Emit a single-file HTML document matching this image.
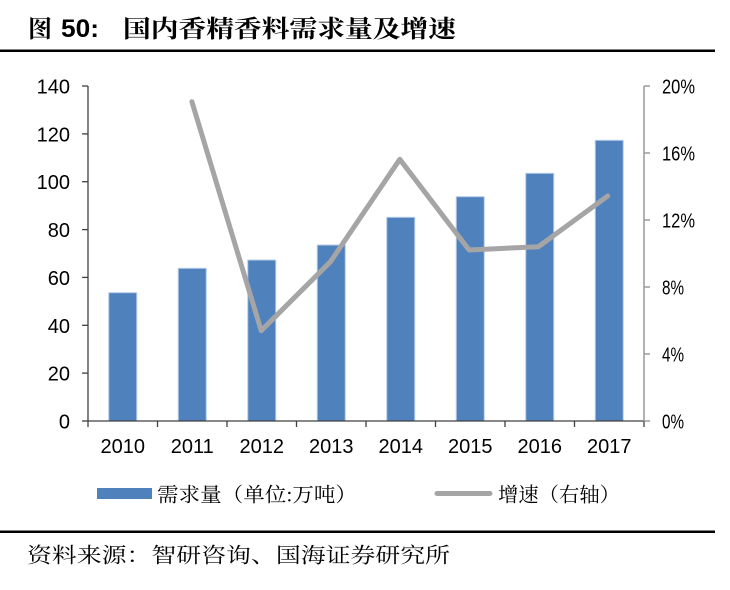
<!DOCTYPE html>
<html>
<head>
<meta charset="utf-8">
<style>
  html,body{margin:0;padding:0;background:#fff;}
  svg{display:block;}
  .num{font-family:"Liberation Sans",Arial,sans-serif;font-size:20px;fill:#000;}
  .cjk{font-family:"Liberation Serif","Noto Serif CJK SC",serif;fill:#000;}
</style>
</head>
<body>
<svg width="730" height="590" viewBox="0 0 730 590" xmlns="http://www.w3.org/2000/svg">
  <rect width="730" height="590" fill="#fff"/>

  <!-- Title -->
  <text x="28" y="37" class="cjk" font-size="24" font-weight="700" textLength="24" lengthAdjust="spacingAndGlyphs">图</text>
  <text x="61" y="37" font-family="Liberation Sans, Arial, sans-serif" font-size="25" font-weight="700" textLength="38" lengthAdjust="spacingAndGlyphs">50:</text>
  <text x="123" y="37" class="cjk" font-size="24" font-weight="700" textLength="333" lengthAdjust="spacingAndGlyphs">国内香精香料需求量及增速</text>
  <rect x="0" y="49.5" width="715" height="2.5" fill="#000"/>

  <!-- Bars -->
  <g fill="#4f81bd" stroke="#b8cde8" stroke-width="1">
    <rect x="108.75" y="292.7" width="28" height="128.3"/>
    <rect x="178.25" y="268.3" width="28" height="152.7"/>
    <rect x="247.75" y="260" width="28" height="161"/>
    <rect x="317.25" y="245" width="28" height="176"/>
    <rect x="386.75" y="217.3" width="28" height="203.7"/>
    <rect x="456.25" y="196.7" width="28" height="224.3"/>
    <rect x="525.75" y="173.3" width="28" height="247.7"/>
    <rect x="595.25" y="140.3" width="28" height="280.7"/>
  </g>

  <!-- Axes -->
  <g stroke="#404040" stroke-width="1.3" fill="none">
    <line x1="88" y1="86" x2="88" y2="421"/>
    <line x1="88" y1="421" x2="644" y2="421"/>
    <line x1="82" y1="86" x2="88" y2="86"/>
    <line x1="82" y1="133.9" x2="88" y2="133.9"/>
    <line x1="82" y1="181.7" x2="88" y2="181.7"/>
    <line x1="82" y1="229.6" x2="88" y2="229.6"/>
    <line x1="82" y1="277.4" x2="88" y2="277.4"/>
    <line x1="82" y1="325.3" x2="88" y2="325.3"/>
    <line x1="82" y1="373.1" x2="88" y2="373.1"/>
    <line x1="82" y1="421" x2="88" y2="421"/>
    <line x1="88" y1="421" x2="88" y2="427"/>
    <line x1="157.5" y1="421" x2="157.5" y2="427"/>
    <line x1="227" y1="421" x2="227" y2="427"/>
    <line x1="296.5" y1="421" x2="296.5" y2="427"/>
    <line x1="366" y1="421" x2="366" y2="427"/>
    <line x1="435.5" y1="421" x2="435.5" y2="427"/>
    <line x1="505" y1="421" x2="505" y2="427"/>
    <line x1="574.5" y1="421" x2="574.5" y2="427"/>
    <line x1="644" y1="421" x2="644" y2="427"/>
  </g>
  <g stroke="#9a9a9a" stroke-width="1.5" fill="none">
    <line x1="644" y1="86" x2="644" y2="421"/>
    <line x1="644" y1="86" x2="650" y2="86"/>
    <line x1="644" y1="153" x2="650" y2="153"/>
    <line x1="644" y1="220" x2="650" y2="220"/>
    <line x1="644" y1="287" x2="650" y2="287"/>
    <line x1="644" y1="354" x2="650" y2="354"/>
    <line x1="644" y1="421" x2="650" y2="421"/>
  </g>

  <!-- Line series -->
  <polyline points="191.9,101.7 261.2,330.7 330.5,261.7 399.8,159.3 469.1,250 538.4,246.7 607.7,196"
    fill="none" stroke="#a5a5a5" stroke-width="5" stroke-linejoin="round" stroke-linecap="round"/>

  <!-- Left axis labels -->
  <g class="num" text-anchor="end">
    <text x="70" y="93.5">140</text>
    <text x="70" y="141.4">120</text>
    <text x="70" y="189.2">100</text>
    <text x="70" y="237.1">80</text>
    <text x="70" y="284.9">60</text>
    <text x="70" y="332.8">40</text>
    <text x="70" y="380.6">20</text>
    <text x="70" y="428.5">0</text>
  </g>

  <!-- Right axis labels -->
  <g class="num">
    <text x="662" y="93.5" textLength="33" lengthAdjust="spacingAndGlyphs">20%</text>
    <text x="662" y="160.5" textLength="33" lengthAdjust="spacingAndGlyphs">16%</text>
    <text x="662" y="227.5" textLength="33" lengthAdjust="spacingAndGlyphs">12%</text>
    <text x="662" y="294.5" textLength="22" lengthAdjust="spacingAndGlyphs">8%</text>
    <text x="662" y="361.5" textLength="22" lengthAdjust="spacingAndGlyphs">4%</text>
    <text x="662" y="428.5" textLength="22" lengthAdjust="spacingAndGlyphs">0%</text>
  </g>

  <!-- X labels -->
  <g class="num" text-anchor="middle">
    <text x="122.75" y="453">2010</text>
    <text x="192.25" y="453">2011</text>
    <text x="261.75" y="453">2012</text>
    <text x="331.25" y="453">2013</text>
    <text x="400.75" y="453">2014</text>
    <text x="470.25" y="453">2015</text>
    <text x="539.75" y="453">2016</text>
    <text x="609.25" y="453">2017</text>
  </g>

  <!-- Legend -->
  <rect x="97" y="488" width="55" height="11" fill="#4f81bd"/>
  <text x="157" y="501.5" class="cjk" font-size="20" textLength="200" lengthAdjust="spacingAndGlyphs">需求量（单位:万吨）</text>
  <line x1="437" y1="493.5" x2="490" y2="493.5" stroke="#a5a5a5" stroke-width="5" stroke-linecap="round"/>
  <text x="498" y="501.5" class="cjk" font-size="20" textLength="122" lengthAdjust="spacingAndGlyphs">增速（右轴）</text>

  <!-- Footer -->
  <rect x="0" y="530.5" width="715" height="2.5" fill="#000"/>
  <text x="27" y="562.5" class="cjk" font-size="21" textLength="423" lengthAdjust="spacingAndGlyphs">资料来源：智研咨询、国海证券研究所</text>
</svg>
</body>
</html>
